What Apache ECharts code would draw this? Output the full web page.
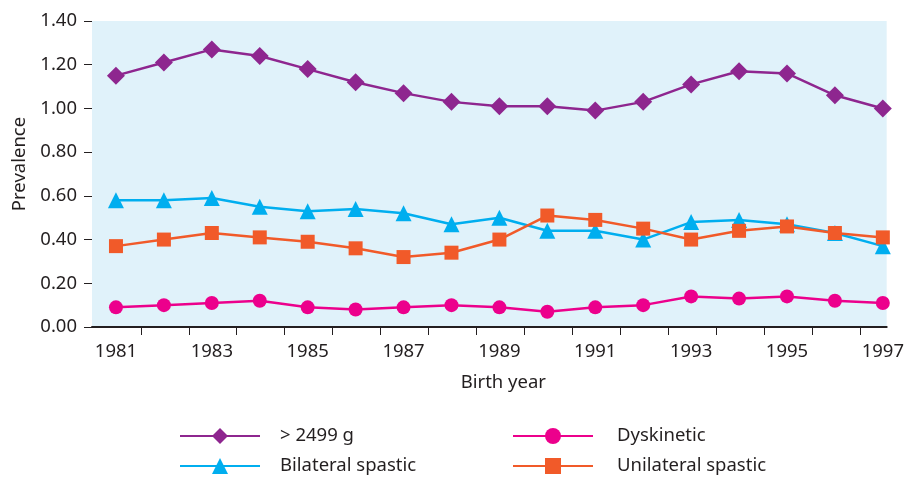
<!DOCTYPE html>
<html>
<head>
<meta charset="utf-8">
<script src="https://cdn.jsdelivr.net/npm/echarts@6/dist/echarts.min.js"></script>
<style>
    html, body {margin:0;padding:0;background:#fff;}
    #chart {width:907px;height:477px;}
</style>
</head>
<body>
<div id="chart"></div>
<script>
    // birth years and prevalence per series
    var years = [1981, 1982, 1983, 1984, 1985, 1986, 1987, 1988, 1989, 1990, 1991, 1992, 1993, 1994, 1995, 1996, 1997];
    var over2499 = [1.15, 1.21, 1.27, 1.24, 1.18, 1.12, 1.07, 1.03, 1.01, 1.01, 0.99, 1.03, 1.11, 1.17, 1.16, 1.06, 1.00];
    var bilateral = [0.58, 0.58, 0.59, 0.55, 0.53, 0.54, 0.52, 0.47, 0.50, 0.44, 0.44, 0.40, 0.48, 0.49, 0.47, 0.43, 0.37];
    var unilateral = [0.37, 0.40, 0.43, 0.41, 0.39, 0.36, 0.32, 0.34, 0.40, 0.51, 0.49, 0.45, 0.40, 0.44, 0.46, 0.43, 0.41];
    var dyskinetic = [0.09, 0.10, 0.11, 0.12, 0.09, 0.08, 0.09, 0.10, 0.09, 0.07, 0.09, 0.10, 0.14, 0.13, 0.14, 0.12, 0.11];
    var yearLabels = [1981, 1983, 1985, 1987, 1989, 1991, 1993, 1995, 1997];

    var font = 'Noto Sans';
    var fs = 18.5;
    var ink = '#231f20';

    function pairs(values) {
        return years.map(function (y, i) { return [y, values[i]]; });
    }
    function line(name, values, color, symbol, size) {
        return {
            name: name,
            type: 'line',
            data: pairs(values),
            symbol: symbol,
            symbolSize: size,
            lineStyle: {color: color, width: 2.5},
            itemStyle: {color: color},
            z: 3
        };
    }
    function legendBlock(left, textPad, names) {
        return {
            orient: 'vertical', left: left, top: 426, padding: 0,
            itemWidth: 80, itemHeight: 20, itemGap: 10,
            textStyle: {fontFamily: font, fontSize: fs, lineHeight: 20, color: ink, padding: [0, 0, 0, textPad]},
            data: names
        };
    }

    var chart = echarts.init(document.getElementById('chart'));
    var option = {
        animation: false,
        textStyle: {fontFamily: font},
        grid: {
            left: 92, top: 21, width: 798, height: 306,
            show: true, backgroundColor: '#e0f2fa', borderWidth: 0
        },
        legend: [
            legendBlock(179, 15, ['> 2499 g', 'Bilateral spastic']),
            legendBlock(512, 19, ['Dyskinetic', 'Unilateral spastic'])
        ],
        xAxis: {
            type: 'value',
            min: 1980.5,
            max: 1997.08,
            name: 'Birth year',
            nameLocation: 'middle',
            nameGap: 46,
            nameTextStyle: {fontFamily: font, fontSize: fs, color: ink, padding: [0, 0, 0, 28]},
            splitLine: {show: false},
            axisLine: {show: true, lineStyle: {color: ink, width: 2}},
            axisTick: {
                show: true, length: 8, lineStyle: {color: ink, width: 1},
                customValues: years.slice(0, -1).map(function (y) { return y + 0.52; })
            },
            axisLabel: {
                fontFamily: font, fontSize: fs, color: ink, margin: 15,
                customValues: yearLabels,
                formatter: function (v) { return String(v); }
            }
        },
        yAxis: {
            type: 'value',
            min: 0,
            max: 1.4,
            interval: 0.2,
            name: 'Prevalence',
            nameLocation: 'middle',
            nameGap: 62,
            nameTextStyle: {fontFamily: font, fontSize: fs, color: ink, padding: [0, 0, 0, 20]},
            splitLine: {show: false},
            axisLine: {show: false},
            axisTick: {show: true, length: 8, lineStyle: {color: ink, width: 1}},
            axisLabel: {
                fontFamily: font, fontSize: fs, color: ink, margin: 15,
                formatter: function (v) { return v.toFixed(2); }
            }
        },
        series: [
            line('> 2499 g', over2499, '#8e268f', 'diamond', 18),
            line('Bilateral spastic', bilateral, '#00aeef', 'triangle', 16),
            line('Dyskinetic', dyskinetic, '#ec008c', 'circle', 14),
            line('Unilateral spastic', unilateral, '#f15a29', 'rect', 14)
        ]
    };
    chart.setOption(option);
</script>
</body>
</html>
